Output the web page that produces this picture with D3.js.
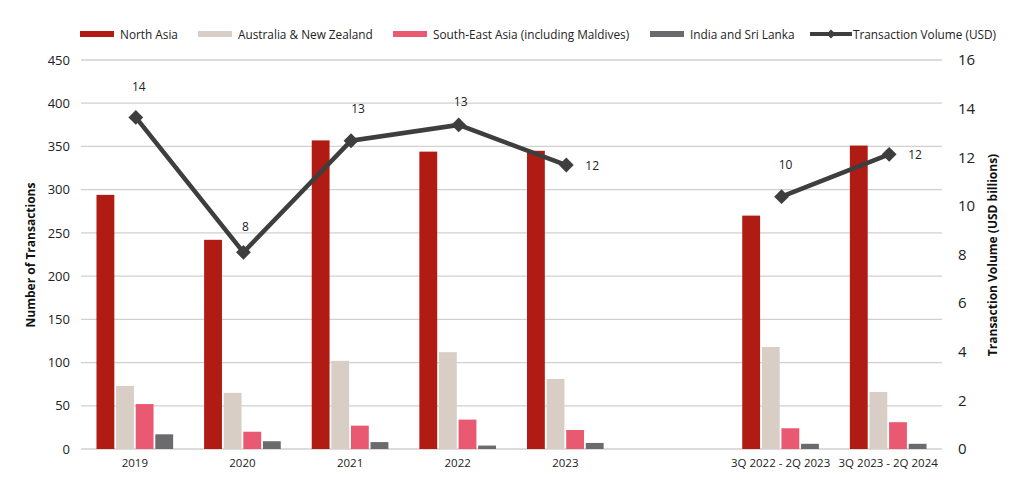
<!DOCTYPE html>
<html><head><meta charset="utf-8">
<script src="https://cdn.jsdelivr.net/npm/d3@7"></script>
<style>body{margin:0;background:#fff;font-family:"Open Sans",Calibri,sans-serif;}</style>
</head><body><svg id="c" width="1024" height="486"></svg>
<script>
const categories = ["2019","2020","2021","2022","2023","","3Q 2022 - 2Q 2023","3Q 2023 - 2Q 2024"];
const northAsia = [294,242,357,344,345,null,270,351];
const ausNz = [73,65,102,112,81,null,118,66];
const seAsia = [52,20,27,34,22,null,24,31];
const indiaSL = [17,9,8,4,7,null,6,6];
const volume = [13.64,8.09,12.68,13.33,11.68,null,10.38,12.12];
const volumeLabels = ["14","8","13","13","12","","10","12"];
const leftTicks = [0,50,100,150,200,250,300,350,400,450];
const rightTicks = [0,2,4,6,8,10,12,14,16];
const seriesNames = ["North Asia","Australia & New Zealand","South-East Asia (including Maldives)","India and Sri Lanka"];
const lineName = "Transaction Volume (USD)";
const colors = ["#B01C13","#D8CEC5","#E95A72","#6B6B6D"];
const lineColor = "#3E3E3E";
// label layout: [dx, dy from point, anchor]
const labelLayout = [[3,-31,"middle"],[2,-26,"middle"],[7,-32,"middle"],[2,-23,"middle"],[19,0,"start"],null,[4,-32,"middle"],[19,0,"start"]];

const svg = d3.select("#c");
const m = {l:81, r:942, t:60, b:449};
const x = d3.scaleBand().domain(d3.range(categories.length)).range([m.l, m.r]);
const yL = d3.scaleLinear().domain([0,450]).range([m.b, m.t]);
const yR = d3.scaleLinear().domain([0,16]).range([m.b, m.t]);
const series = [northAsia, ausNz, seAsia, indiaSL];
const xs = d3.scaleBand().domain(d3.range(series.length)).range([0, x.bandwidth()]).paddingOuter(0.79).paddingInner(0.09);
const cx = i => x(i)+x.bandwidth()/2+1;

// grid
svg.append("g").selectAll("line").data(leftTicks).join("line")
  .attr("x1", m.l).attr("x2", m.r).attr("y1", d=>yL(d)).attr("y2", d=>yL(d))
  .attr("stroke","#D0D0D0").attr("stroke-width",1.3);

// left axis
const ga = svg.append("g").attr("transform",`translate(${m.l-3},0)`)
  .call(d3.axisLeft(yL).tickValues(leftTicks).tickSize(0).tickPadding(8));
ga.select(".domain").remove();
ga.selectAll("text").attr("font-size",13).attr("fill","#222").attr("font-family","Open Sans, sans-serif");
// right axis
const gr = svg.append("g").attr("transform",`translate(${m.r+8},0)`)
  .call(d3.axisRight(yR).tickValues(rightTicks).tickSize(0).tickPadding(8));
gr.select(".domain").remove();
gr.selectAll("text").attr("font-size",15).attr("fill","#222").attr("font-family","Open Sans, sans-serif");
// x axis
const gx = svg.append("g").attr("transform",`translate(0,${m.b})`)
  .call(d3.axisBottom(x).tickFormat(i=>categories[i]).tickSize(0).tickPadding(10));
gx.select(".domain").remove();
gx.selectAll("text").attr("font-size",11.5).attr("fill","#222").attr("font-family","Open Sans, sans-serif");

// bars
series.forEach((s, si) => {
  svg.append("g").selectAll("rect").data(s.map((v,i)=>({v,i})).filter(d=>d.v!=null)).join("rect")
    .attr("x", d=>x(d.i)+xs(si)).attr("width", xs.bandwidth())
    .attr("y", d=>yL(d.v)).attr("height", d=>yL(0)-yL(d.v)).attr("fill", colors[si]);
});

// line
const pts = volume.map((v,i)=>({v,i}));
const line = d3.line().defined(d=>d.v!=null).x(d=>cx(d.i)).y(d=>yR(d.v));
svg.append("path").datum(pts).attr("d", line).attr("fill","none").attr("stroke",lineColor).attr("stroke-width",4.5);
const valid = pts.filter(d=>d.v!=null);
svg.append("g").selectAll("path").data(valid).join("path")
  .attr("d", d3.symbol(d3.symbolSquare, 110)())
  .attr("transform", d=>`translate(${cx(d.i)},${yR(d.v)}) rotate(45)`)
  .attr("fill",lineColor);
svg.append("g").selectAll("text").data(valid).join("text")
  .attr("x", d=> cx(d.i)+labelLayout[d.i][0])
  .attr("y", d=> yR(d.v)+labelLayout[d.i][1]+4.5)
  .attr("text-anchor", d=> labelLayout[d.i][2])
  .attr("font-size",12).attr("fill","#222").text(d=>volumeLabels[d.i]);

// axis titles
svg.append("text").attr("transform","translate(35,255) rotate(-90)").attr("text-anchor","middle")
  .attr("font-size",12).attr("font-weight","bold").attr("fill","#111").text("Number of Transactions");
svg.append("text").attr("transform","translate(997,255) rotate(-90)").attr("text-anchor","middle")
  .attr("font-size",12).attr("font-weight","bold").attr("fill","#111").text("Transaction Volume (USD billions)");

// legend
const legX = [80,198,393,650];
const lg = svg.append("g");
seriesNames.forEach((n,i)=>{
  lg.append("rect").attr("x",legX[i]).attr("y",31).attr("width",34).attr("height",6).attr("fill",colors[i]);
  lg.append("text").attr("x",legX[i]+40).attr("y",38.5).attr("font-size",11.8).attr("fill","#222").text(n);
});
lg.append("line").attr("x1",810).attr("x2",852).attr("y1",34).attr("y2",34).attr("stroke",lineColor).attr("stroke-width",4);
lg.append("path").attr("d",d3.symbol(d3.symbolSquare,40)()).attr("transform","translate(831,34) rotate(45)").attr("fill",lineColor);
lg.append("text").attr("x",853).attr("y",38.5).attr("font-size",11.8).attr("fill","#222").text(lineName);
</script></body></html>
